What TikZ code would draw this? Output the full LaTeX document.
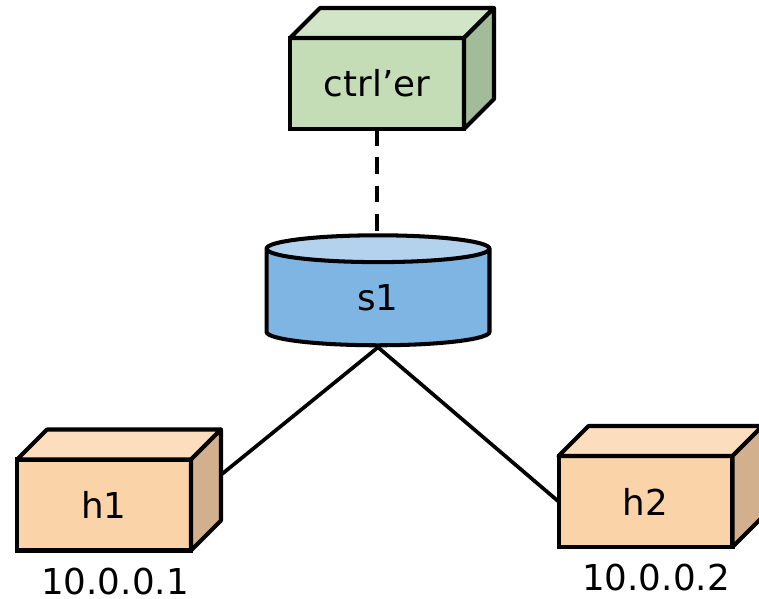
\documentclass[tikz,border=0pt]{standalone}
\usepackage{fontspec}
\setmainfont{DejaVu Sans}
\usetikzlibrary{shapes.geometric}
\definecolor{ctrlfront}{HTML}{C4DDB6}
\definecolor{ctrltop}{HTML}{D2E5C6}
\definecolor{ctrlside}{HTML}{A2BC9A}
\definecolor{hostfront}{HTML}{FBD3A9}
\definecolor{hosttop}{HTML}{FCDDBD}
\definecolor{hostside}{HTML}{D2B08E}
\definecolor{swbody}{HTML}{7FB5E3}
\definecolor{swtop}{HTML}{B3D2EE}
\tikzset{
  front/.style={draw,line width=2.3pt,rectangle,outer sep=0pt,minimum width=3.48cm,minimum height=1.82cm,inner sep=0pt,font=\fontsize{20.3}{24}\selectfont},
  face/.style={draw,line width=2.3pt,line join=round},
  link/.style={line width=2.1pt},
  addr/.style={font=\fontsize{20.3}{24}\selectfont},
}
\begin{document}
\begin{tikzpicture}[x=0.02cm,y=-0.02cm]
	\useasboundingbox (0,0) rectangle (759,598);

	% boxes
	\node[front,fill=ctrlfront] (ctrl) at (377,83.5) {ctrl’er};
	\node[front,fill=hostfront] (h1) at (104,505) {h1};
	\node[front,fill=hostfront] (h2) at (645.5,501.5) {h2};

	\draw[face,fill=ctrltop] (ctrl.north west) -- ++(30,-30) -- ++(174,0) -- (ctrl.north east) -- cycle;
	\draw[face,fill=ctrlside] (ctrl.north east) -- ++(30,-30) -- ++(0,91) -- (ctrl.south east) -- cycle;

	\foreach \h in {h1,h2} {
	 \draw[face,fill=hosttop] (\h.north west) -- ++(30,-30) -- ++(174,0) -- (\h.north east) -- cycle;
	 \draw[face,fill=hostside] (\h.north east) -- ++(30,-30) -- ++(0,91) -- (\h.south east) -- cycle;
	}

	% switch
	\node[cylinder,shape border rotate=90,draw,line width=2.3pt,aspect=0.65,minimum width=4.46cm,minimum height=2.2cm,inner sep=0pt,
	  cylinder uses custom fill,cylinder body fill=swbody,cylinder end fill=swtop,font=\fontsize{20.3}{24}\selectfont] (s1) at (378,298) {s1};

	% links
	\coordinate (h1side) at (222,474);
	\draw[link,dash pattern=on 9.5pt off 6.6pt] (ctrl.south) -- (ctrl.south |- s1.north);
	\draw[link] (s1.south) -- (h1side);
	\draw[link] (s1.south) -- (h2.west);

	\node[addr] (ip1) at (115,582) {10.0.0.1};
	\node[addr] (ip2) at (656,578) {10.0.0.2};
\end{tikzpicture}
\end{document}
